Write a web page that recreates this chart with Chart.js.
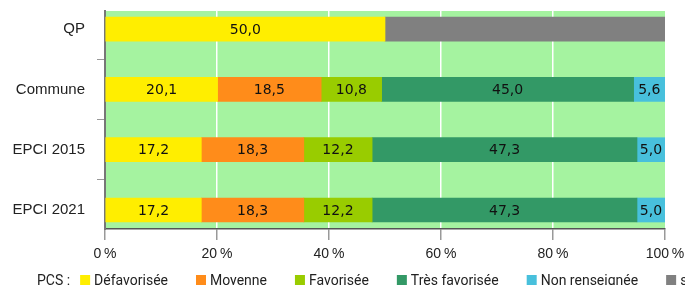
<!DOCTYPE html>
<html>
<head>
<meta charset="utf-8">
<script src="https://cdn.jsdelivr.net/npm/chart.js@4"></script>
<style>
  body { margin: 0; background: #fff; }
  canvas { display: block; }
</style>
</head>
<body>
<canvas id="pcs" width="685" height="285"></canvas>
<script>
// categories (top to bottom)
var categories = ["QP", "Commune", "EPCI 2015", "EPCI 2021"];

// shares in %
var defavorisee   = [50.0, 20.1, 17.2, 17.2];
var moyenne       = [null, 18.5, 18.3, 18.3];
var favorisee     = [null, 10.8, 12.2, 12.2];
var tresFavorisee = [null, 45.0, 47.3, 47.3];
var nonRenseignee = [null, 5.6, 5.0, 5.0];
var secretStat    = [50.0, null, null, null];

var xTicks = [0, 20, 40, 60, 80, 100];

var seriesNames = ["Défavorisée", "Moyenne", "Favorisée", "Très favorisée", "Non renseignée", "secret statistique"];
var seriesData = [defavorisee, moyenne, favorisee, tresFavorisee, nonRenseignee, secretStat];
var seriesColors = ["#ffee00", "#ff8c1a", "#99cc00", "#339966", "#48c0dc", "#808080"];

function points(arr) {
  var out = [];
  arr.forEach(function (v, i) {
    if (v !== null) out.push({ x: v, y: i });
  });
  return out;
}

var datasets = seriesNames.map(function (name, k) {
  return {
    label: name,
    data: points(seriesData[k]),
    backgroundColor: seriesColors[k],
    borderWidth: 0,
    barThickness: 24,
    showValues: k < 5  // secret part has no number
  };
});

/* green plot background */
var plotBg = {
  id: "plotBg",
  beforeDraw: function (chart) {
    var a = chart.chartArea, c = chart.ctx;
    c.save();
    c.fillStyle = "#a5f3a0";
    c.fillRect(a.left, a.top, a.right - a.left, a.bottom - a.top);
    c.restore();
  }
};

/* value labels inside segments */
var barValues = {
  id: "barValues",
  afterDatasetsDraw: function (chart) {
    var c = chart.ctx;
    c.save();
    c.font = "14px 'DejaVu Sans'";
    c.fillStyle = "#111";
    c.textAlign = "center";
    c.textBaseline = "middle";
    chart.data.datasets.forEach(function (ds, k) {
      if (!ds.showValues) return;
      var meta = chart.getDatasetMeta(k);
      meta.data.forEach(function (el, i) {
        var v = ds.data[i].x;
        c.fillText(v.toFixed(1).replace(".", ","), (el.x + el.base) / 2, el.y + 1);
      });
    });
    c.restore();
  }
};

/* legend row at the bottom (clipped like the original) */
var pcsLegend = {
  id: "pcsLegend",
  afterDraw: function (chart) {
    var c = chart.ctx;
    c.save();
    c.font = "14px Roboto";
    c.fillStyle = "#222";
    c.textBaseline = "alphabetic";
    var x = 37, y = 285;
    c.fillText("PCS :", x, y);
    x += c.measureText("PCS :").width + 10;
    seriesNames.forEach(function (name, k) {
      c.fillStyle = seriesColors[k];
      c.fillRect(x, 275, 10, 10);
      c.fillStyle = "#222";
      c.fillText(name, x + 14, y);
      x += 14 + c.measureText(name).width + 28;
    });
    c.restore();
  }
};

function tickVal(ctx) {
  return ctx && ctx.tick ? ctx.tick.value : null;
}

new Chart(document.getElementById("pcs"), {
  type: "bar",
  data: { datasets: datasets },
  options: {
    indexAxis: "y",
    responsive: false,
    animation: false,
    devicePixelRatio: 1,
    layout: { padding: { top: 11, right: 20, bottom: 23, left: 0 } },
    plugins: { legend: { display: false }, tooltip: { enabled: false } },
    scales: {
      x: {
        stacked: true,
        min: 0,
        max: 100,
        afterBuildTicks: function (s) { s.ticks = xTicks.map(function (v) { return { value: v }; }); },
        afterFit: function (s) { s.height = 33; s.paddingLeft = 0; s.paddingRight = 0; },
        ticks: {
          padding: 6,
          color: "#222",
          font: { family: "'Liberation Sans'", size: 14 },
          callback: function (v) { return v + "\u202f%"; }
        },
        grid: {
          color: function (ctx) {
            var v = tickVal(ctx);
            return (v > 0 && v < 100) ? "#ffffff" : "rgba(0,0,0,0)";
          },
          lineWidth: 1.5,
          tickColor: "#999",
          tickLength: 11
        },
        border: { display: true, color: "#555", width: 1.5 }
      },
      y: {
        type: "linear",
        stacked: true,
        reverse: true,
        offset: false,
        min: -0.3,
        max: 3.315,
        afterBuildTicks: function (s) {
          s.ticks = [0, 0.5, 1, 1.5, 2, 2.5, 3].map(function (v) { return { value: v }; });
        },
        afterFit: function (s) { s.width = 105; s.paddingTop = 0; s.paddingBottom = 0; },
        ticks: {
          padding: 12,
          autoSkip: false,
          color: "#222",
          font: { family: "'Liberation Sans'", size: 15 },
          callback: function (v) { return Number.isInteger(v) ? categories[v] : ""; }
        },
        grid: {
          offset: false,
          drawOnChartArea: false,
          tickLength: 8,
          tickColor: function (ctx) {
            var v = tickVal(ctx);
            return (v === null || Number.isInteger(v)) ? "rgba(0,0,0,0)" : "#999";
          }
        },
        border: { display: true, color: "#777", width: 2 }
      }
    }
  },
  plugins: [plotBg, barValues, pcsLegend]
});
</script>
</body>
</html>
